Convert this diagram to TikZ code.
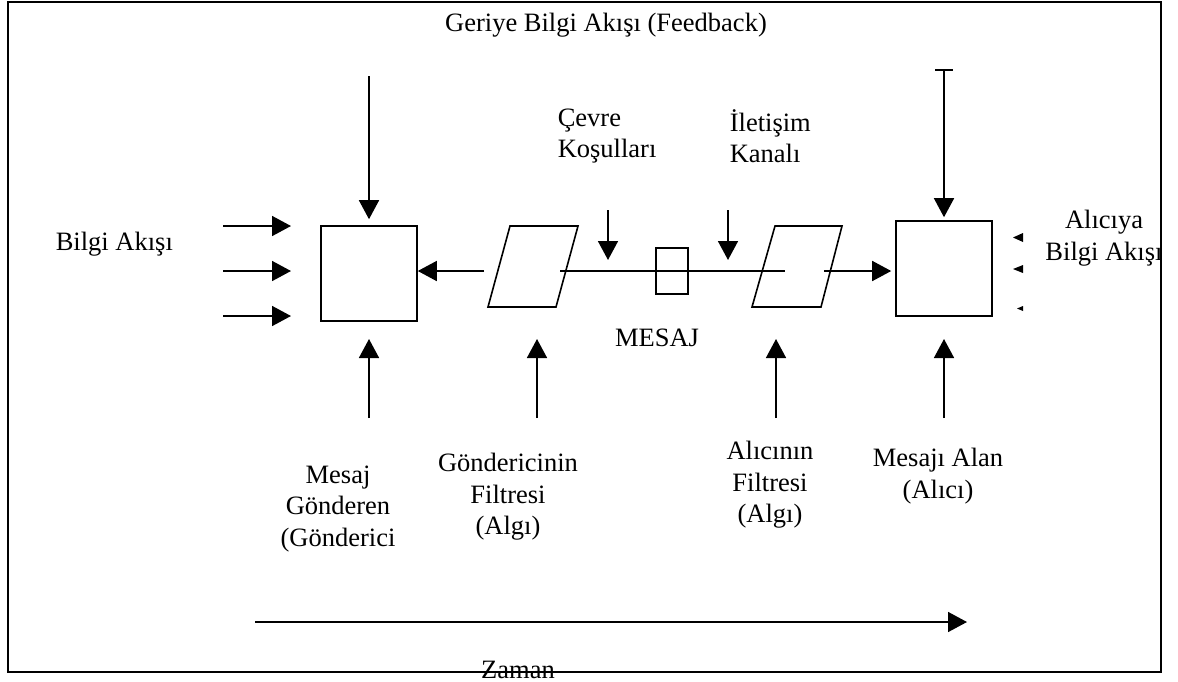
\documentclass[tikz,border=0pt]{standalone}
\usepackage{fontspec}
\setmainfont{Liberation Serif}
\usetikzlibrary{arrows.meta}
\begin{document}
\begin{tikzpicture}[x=1pt,y=-1pt,
  line width=1.6pt,
  arr/.style={-{Triangle[length=19pt,width=20pt]}},
  barr/.style={{Bar[width=18pt,line width=1.6pt]}-{Triangle[length=19pt,width=20pt]}},
  boxnode/.style={draw,minimum width=96pt,minimum height=95pt,inner sep=0pt},
  msgbox/.style={draw,minimum width=32pt,minimum height=46pt,inner sep=0pt,line width=1.3pt},
  lbl/.style={inner sep=0pt,align=center,font=\fontsize{26.5}{31.5}\selectfont},
  lbll/.style={inner sep=0pt,align=left,font=\fontsize{26.5}{31.5}\selectfont},
  tick/.style={fill=black,draw=none}]
\useasboundingbox (0,0) rectangle (1178,681);

% sender and receiver boxes
\node[boxnode] (send) at (369,273.5) {};
\node[boxnode] (recv) at (944,268.5) {};
\node[msgbox] (msg) at (672,271) {};

% filters (parallelograms)
\draw (510,226) -- (578,226) -- (556,307) -- (488,307) -- cycle;
\draw (775,226) -- (842,226) -- (821,307) -- (752,307) -- cycle;

% labels
\node[lbl] (title) at (606,25) {Geriye Bilgi Akışı (Feedback)};
\node[lbll,anchor=west] (cevre) at (557,136) {Çevre\\Koşulları};
\node[lbll,anchor=west] (kanal) at (729,136) {İletişim\\Kanalı};
\node[lbll,anchor=west] (bilgi) at (55,244) {Bilgi Akışı};
\node[lbl] (alic) at (1104,238) {Alıcıya\\Bilgi Akışı};
\node[lbl] (mesaj) at (657,338) {MESAJ};
\node[lbl] (gond) at (338,509) {Mesaj\\Gönderen\\(Gönderici};
\node[lbl] (gfil) at (508,497) {Göndericinin\\Filtresi\\(Algı)};
\node[lbl] (afil) at (770,485) {Alıcının\\Filtresi\\(Algı)};
\node[lbl] (alan) at (938,476) {Mesajı Alan\\(Alıcı)};
\node[lbl] (zaman) at (518,670) {Zaman};

% connector end points
\coordinate (in1) at (223,226);
\coordinate (in2) at (223,271);
\coordinate (in3) at (223,316);
\coordinate (t1) at (291,226);
\coordinate (t2) at (291,271);
\coordinate (t3) at (291,316);
\coordinate (fbL) at (369,76);
\coordinate (fbR) at (944,69);
\coordinate (f1out) at (484,271);
\coordinate (lineA) at (560,271);
\coordinate (lineB) at (785,271);
\coordinate (f2out) at (824,271);
\coordinate (envtop) at (608,210);
\coordinate (envtip) at (608,260);
\coordinate (chtop) at (728,210);
\coordinate (chtip) at (728,260);
\coordinate (u1) at (369,418);  \coordinate (u1t) at (369,339);
\coordinate (u2) at (537,418);  \coordinate (u2t) at (537,339);
\coordinate (u3) at (776,418);  \coordinate (u3t) at (776,339);
\coordinate (u4) at (944,418);  \coordinate (u4t) at (944,339);
\coordinate (z0) at (255,622);
\coordinate (z1) at (967,622);

% incoming information flow
\draw[arr] (in1) -- (t1);
\draw[arr] (in2) -- (t2);
\draw[arr] (in3) -- (t3);

% feedback arrows
\draw[arr,shorten >=6pt] (fbL) -- (send.north);
\draw[barr,shorten >=3pt] (fbR) -- (recv.north);

% message path
\draw[arr] (f1out) -- (f1out -| send.east);
\draw (lineA) -- (msg.west);
\draw (msg.west) -- (msg.east);
\draw (msg.east) -- (lineB);
\draw[arr,shorten >=4pt] (f2out) -- (f2out -| recv.west);

% environment and channel
\draw[arr] (envtop) -- (envtip);
\draw[arr] (chtop) -- (chtip);

% upward arrows from the labels
\draw[arr] (u1) -- (u1t);
\draw[arr] (u2) -- (u2t);
\draw[arr] (u3) -- (u3t);
\draw[arr] (u4) -- (u4t);

% small heads of the receiver's information flow
\fill[tick] (1013,237.5) -- (1023,233) -- (1023,242) -- cycle;
\fill[tick] (1013,269) -- (1023,265) -- (1023,273) -- cycle;
\fill[tick] (1017,308.5) -- (1023,306) -- (1023,311) -- cycle;

% time axis
\draw[arr] (z0) -- (z1);

% frame
\draw[line width=2pt] (8,2) rectangle (1161,672);
\end{tikzpicture}
\end{document}
